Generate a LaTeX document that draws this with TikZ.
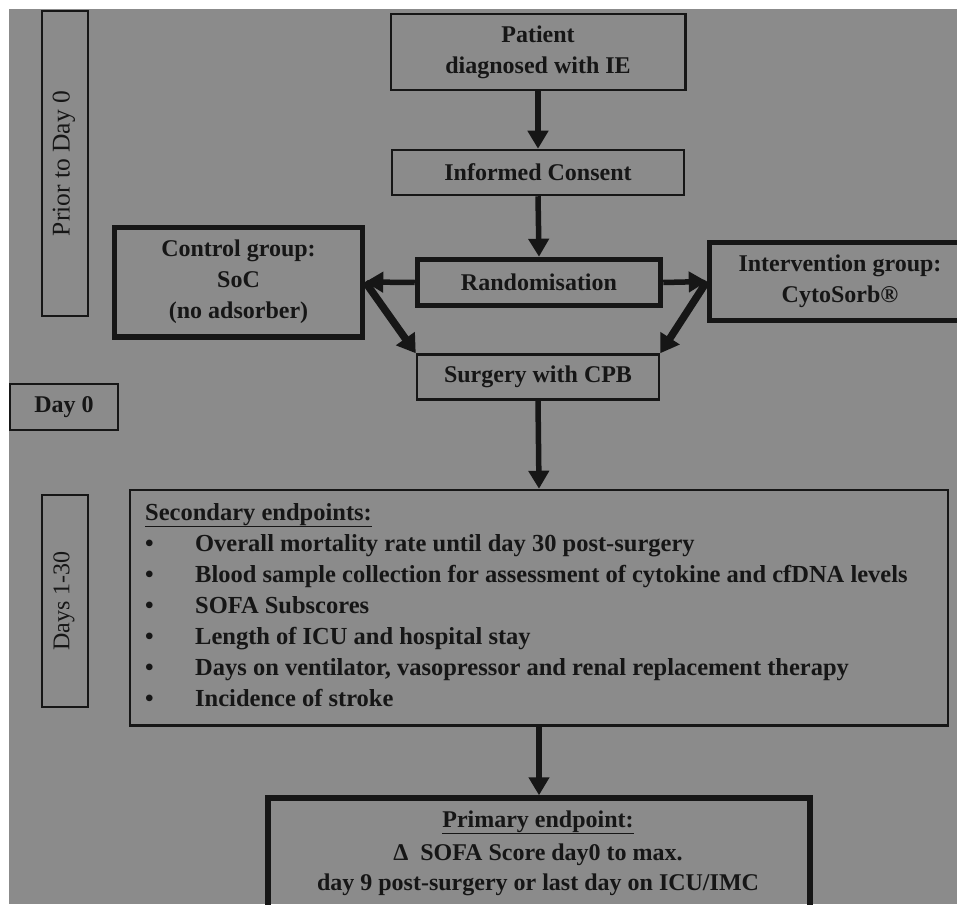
\documentclass[tikz,border=0pt]{standalone}
\usepackage{fontspec}
\setmainfont{Liberation Serif}
\usetikzlibrary{arrows.meta}
\definecolor{bg}{RGB}{139,139,139}
\definecolor{ink}{RGB}{22,22,22}
\begin{document}
\begin{tikzpicture}[x=1pt,y=-1pt,
  every node/.style={text=ink, font=\bfseries\fontsize{24}{31}\selectfont},
  thinbox/.style={draw=ink, line width=2.5pt, inner sep=0pt, align=center},
  thickbox/.style={draw=ink, line width=5.5pt, inner sep=0pt, align=center},
  sidebox/.style={draw=ink, line width=2pt, inner sep=0pt},
  txt/.style={inner sep=0pt, anchor=base},
  ltxt/.style={inner sep=0pt, anchor=base west, font=\bfseries\fontsize{24.5}{31}\selectfont},
  arr/.style={draw=ink, line width=5.5pt, -{Triangle[width=20pt,length=18pt]}},
  darr/.style={draw=ink, line width=7.5pt, -{Triangle[width=22pt,length=18pt]}}
]
\useasboundingbox (0,0) rectangle (957,904);
\fill[bg] (9,9) rectangle (957,904);

% side labels
\node[sidebox, minimum width=46pt, minimum height=305pt] (prior) at (64.5,163.5) {};
\node[rotate=90, inner sep=0pt, font=\mdseries\fontsize{25.5}{30}\selectfont] (priorT) at (64,163.5) {Prior to Day 0};
\node[sidebox, minimum width=108.5pt, minimum height=46pt] (day0) at (64,407) {Day 0};
\node[sidebox, minimum width=46pt, minimum height=212pt] (days) at (64.5,601) {};
\node[rotate=90, inner sep=0pt, font=\mdseries\fontsize{24}{30}\selectfont] (daysT) at (64,601) {Days 1-30};

% flow boxes
\node[thinbox, minimum width=294.5pt, minimum height=76pt] (pat) at (538,52) {Patient\\diagnosed with IE};
\node[thinbox, minimum width=292pt, minimum height=45pt] (cons) at (538,172.5) {Informed Consent};
\node[thickbox, minimum width=243pt, minimum height=46pt] (rand) at (539,282.5) {Randomisation};
\node[thickbox, minimum width=248pt, minimum height=109.5pt] (ctrl) at (238.5,282) {Control group:\\SoC\\(no adsorber)};
\node[thickbox, minimum width=261pt, minimum height=78pt] (int) at (840,281.5) {Intervention group:\\CytoSorb®};
\node[thinbox, minimum width=242pt, minimum height=45pt] (surg) at (538,377) {Surgery with CPB};
\node[thinbox, minimum width=818pt, minimum height=235.5pt] (sec) at (539,607.75) {};
\node[thickbox, minimum width=542pt, minimum height=160pt] (prim) at (539,878) {};

% secondary endpoints text
\node[ltxt] (s0) at (145,520) {\underline{Secondary endpoints:}};
\node[ltxt] (s1) at (145,551) {\makebox[50pt][l]{•}Overall mortality rate until day 30 post-surgery};
\node[ltxt] (s2) at (145,582) {\makebox[50pt][l]{•}Blood sample collection for assessment of cytokine and cfDNA levels};
\node[ltxt] (s3) at (145,613) {\makebox[50pt][l]{•}SOFA Subscores};
\node[ltxt] (s4) at (145,644) {\makebox[50pt][l]{•}Length of ICU and hospital stay};
\node[ltxt] (s5) at (145,675) {\makebox[50pt][l]{•}Days on ventilator, vasopressor and renal replacement therapy};
\node[ltxt] (s6) at (145,706) {\makebox[50pt][l]{•}Incidence of stroke};

% primary endpoint text
\node[txt] (p1) at (538,827) {\underline{Primary endpoint:}};
\node[txt] (p2) at (538,860) {Δ\ \ SOFA Score day0 to max.};
\node[txt] (p3) at (538,890) {day 9 post-surgery or last day on ICU/IMC};

% connectors
\draw[arr] (pat.south) -- (cons.north);
\draw[arr] (cons.south) -- (rand.north);
\draw[arr] (rand.west) -- (ctrl.east);
\draw[arr] (rand.east) -- (int.west);
\draw[darr] (ctrl.east) -- (surg.north west);
\draw[darr] (int.west) -- (surg.north east);
\draw[arr] (surg.south) -- (sec.north);
\draw[arr] (sec.south) -- (prim.north);
\end{tikzpicture}
\end{document}
